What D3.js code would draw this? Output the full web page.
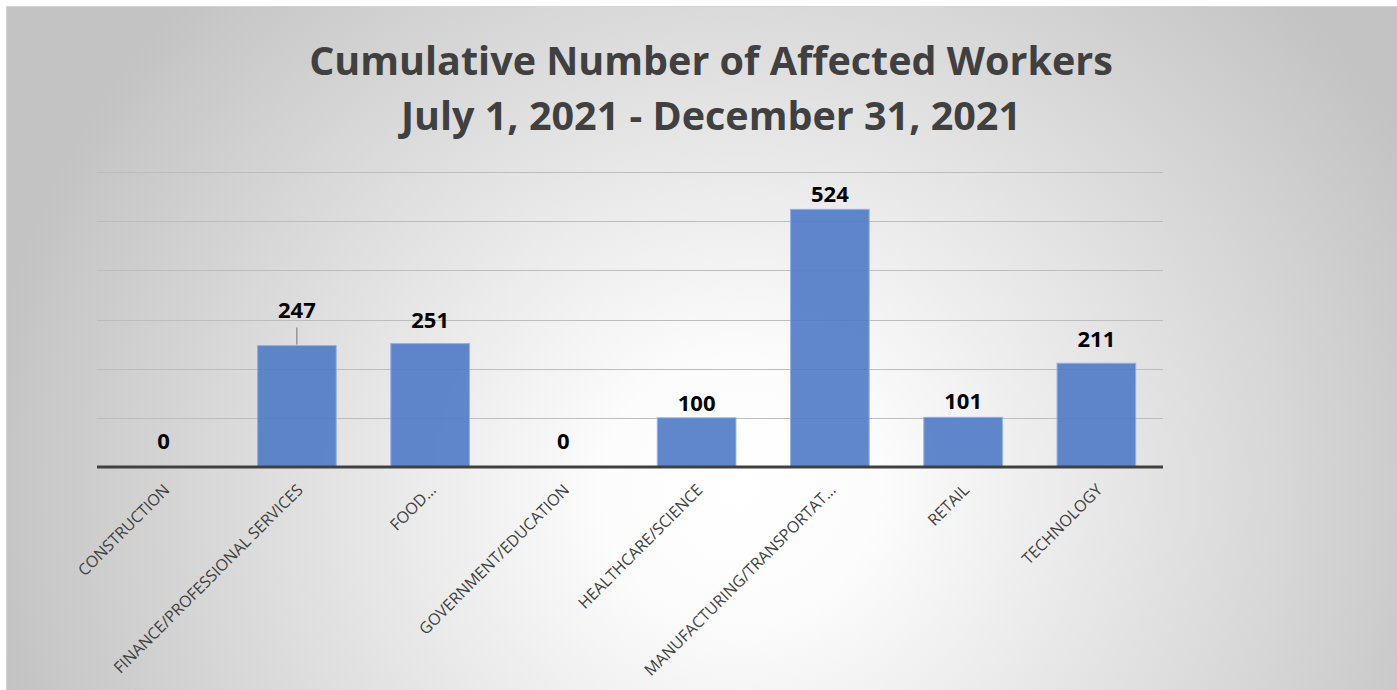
<!DOCTYPE html>
<html>
<head>
<meta charset="utf-8">
<script src="https://cdn.jsdelivr.net/npm/d3@7"></script>
<style>
  html, body { margin: 0; padding: 0; background: #ffffff; }
  svg { display: block; }
</style>
</head>
<body>
<svg id="chart" width="1397" height="690"></svg>
<script>
const categories = ["CONSTRUCTION", "FINANCE/PROFESSIONAL SERVICES", "FOOD…", "GOVERNMENT/EDUCATION",
  "HEALTHCARE/SCIENCE", "MANUFACTURING/TRANSPORTAT…", "RETAIL", "TECHNOLOGY"];
const values = [0, 247, 251, 0, 100, 524, 101, 211];
const gridTicks = [0, 100, 200, 300, 400, 500, 600];
const titleLines = ["Cumulative Number of Affected Workers", "July 1, 2021 - December 31, 2021"];

(function () {
const svg = d3.select("#chart");
const W = 1397, H = 690;

const defs = svg.append("defs");
const grad = defs.append("radialGradient")
  .attr("id", "bg").attr("gradientUnits", "userSpaceOnUse")
  .attr("cx", 740).attr("cy", 490).attr("r", 760)
  .attr("gradientTransform", "translate(740,490) scale(1,0.95) translate(-740,-490)");
grad.append("stop").attr("offset", "0").attr("stop-color", "#ffffff");
grad.append("stop").attr("offset", "0.18").attr("stop-color", "#fcfcfc");
grad.append("stop").attr("offset", "1").attr("stop-color", "#c3c3c3");

// chart frame
svg.append("rect").attr("x", 6).attr("y", 6).attr("width", W - 6).attr("height", H - 6)
  .attr("fill", "url(#bg)");
svg.append("line").attr("x1", 6).attr("x2", W).attr("y1", 6.5).attr("y2", 6.5)
  .attr("stroke", "#d4d4d4").attr("stroke-width", 1);
svg.append("line").attr("x1", 6.5).attr("x2", 6.5).attr("y1", 6).attr("y2", H)
  .attr("stroke", "#d4d4d4").attr("stroke-width", 1);

// title
svg.append("g").selectAll("text").data(titleLines).join("text")
  .attr("x", 711).attr("y", (d, i) => 75 + i * 55)
  .attr("text-anchor", "middle")
  .attr("font-family", "'Open Sans', 'Liberation Sans', sans-serif")
  .attr("font-weight", "bold").attr("font-size", 39.5)
  .attr("fill", "#404040")
  .text(d => d);

const pLeft = 97, pRight = 1163, pTop = 172, pBottom = 467;
const x = d3.scaleBand().domain(categories).range([pLeft, pRight]).paddingInner(0.41).paddingOuter(0.205);
const y = d3.scaleLinear().domain([0, 600]).range([pBottom, pTop]);

// gridlines
svg.append("g").selectAll("line").data(gridTicks.slice(1)).join("line")
  .attr("x1", pLeft).attr("x2", pRight)
  .attr("y1", d => Math.round(y(d)) + 0.5).attr("y2", d => Math.round(y(d)) + 0.5)
  .attr("stroke", "#bdbdbd").attr("stroke-width", 1);

// bars
svg.append("g").selectAll("rect").data(values).join("rect")
  .attr("x", (d, i) => x(categories[i]))
  .attr("y", d => y(d))
  .attr("width", x.bandwidth())
  .attr("height", d => pBottom - y(d))
  .attr("fill", "#4f7ac7").attr("fill-opacity", 0.9)
  .attr("stroke", "#8fb0e6").attr("stroke-width", 1);

// baseline
svg.append("line").attr("x1", pLeft).attr("x2", pRight).attr("y1", pBottom).attr("y2", pBottom)
  .attr("stroke", "#404040").attr("stroke-width", 3);

// value labels (finance one raised with leader line)
const labelOffset = [18, 28, 16, 18, 7, 7, 8, 16];
svg.append("g").selectAll("line").data(values.filter((v, i) => i === 1)).join("line")
  .attr("x1", x(categories[1]) + x.bandwidth() / 2).attr("x2", x(categories[1]) + x.bandwidth() / 2)
  .attr("y1", d => y(d) - 1).attr("y2", d => y(d) - 18)
  .attr("stroke", "#707070").attr("stroke-width", 1);
svg.append("g").selectAll("text").data(values).join("text")
  .attr("x", (d, i) => x(categories[i]) + x.bandwidth() / 2)
  .attr("y", (d, i) => y(d) - labelOffset[i])
  .attr("text-anchor", "middle")
  .attr("font-family", "'Open Sans', 'Liberation Sans', sans-serif")
  .attr("font-weight", "bold").attr("font-size", 22)
  .attr("fill", "#000000")
  .text(d => d);

// category labels
const xAxis = svg.append("g").attr("transform", `translate(0,${pBottom})`)
  .call(d3.axisBottom(x).tickSize(0).tickPadding(0));
xAxis.select(".domain").remove();
xAxis.selectAll("text")
  .attr("font-family", "'Open Sans', 'Liberation Sans', sans-serif")
  .attr("font-size", 16)
  .attr("fill", "#404040")
  .attr("text-anchor", "end")
  .attr("dy", 0)
  .attr("transform", "translate(7,24) rotate(-45)");
})();
</script>
</body>
</html>
